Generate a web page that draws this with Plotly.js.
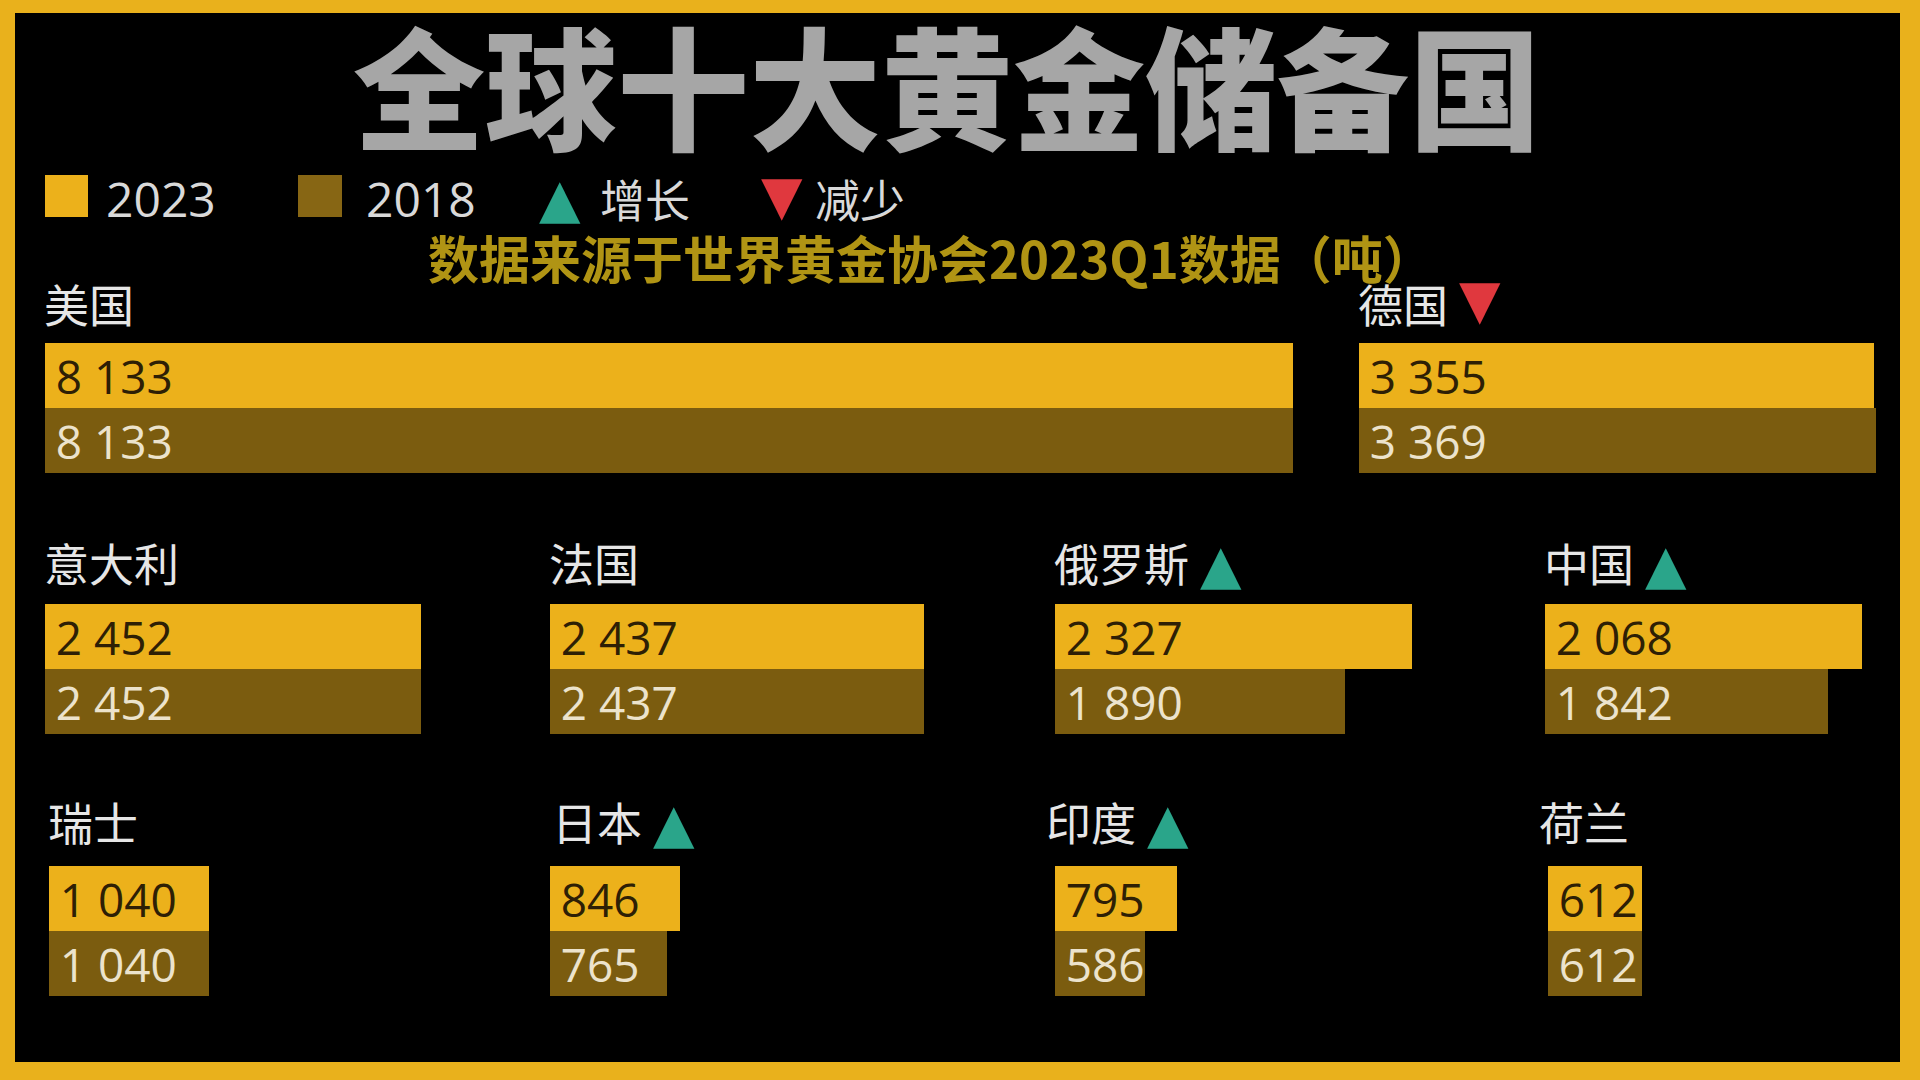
<!DOCTYPE html>
<html>
<head>
<meta charset="utf-8">
<script src="https://cdn.plot.ly/plotly-3.0.1.min.js"></script>
<style>html,body{margin:0;padding:0;background:#000;}#chart{width:1920px;height:1080px;}</style>
</head>
<body>
<div id="chart"></div>
<script>
// ---- data ----
const countries = ['美国','德国','意大利','法国','俄罗斯','中国','瑞士','日本','印度','荷兰'];
const reserves2023 = [8133, 3355, 2452, 2437, 2327, 2068, 1040, 846, 795, 612];
const reserves2018 = [8133, 3369, 2452, 2437, 1890, 1842, 1040, 765, 586, 612];
const years = ['2023', '2018'];
const trendLabels = ['增长', '减少'];
const titleText = '全球十大黄金储备国';
const subtitleText = '数据来源于世界黄金协会2023Q1数据（吨）';

// ---- layout constants ----
const W = 1920, H = 1080;
const PX_PER_T = 0.1535;
const BAR_BLOCK = 130;
const LABEL_SIZE = 45;
const panels = [
  {x0: 45,   L: 1300, top: 343, lx: 0,  ly: 40},
  {x0: 1359, L: 530,  top: 343, lx: 0,  ly: 40},
  {x0: 45,   L: 480,  top: 604, lx: 0,  ly: 42},
  {x0: 550,  L: 480,  top: 604, lx: 0,  ly: 42},
  {x0: 1055, L: 480,  top: 604, lx: 0,  ly: 42},
  {x0: 1545, L: 345,  top: 604, lx: 0,  ly: 42},
  {x0: 49,   L: 480,  top: 866, lx: 0,  ly: 45},
  {x0: 550,  L: 480,  top: 866, lx: 3,  ly: 45},
  {x0: 1055, L: 480,  top: 866, lx: -8, ly: 45},
  {x0: 1548, L: 345,  top: 866, lx: -8, ly: 45}
];
const GOLD = '#ecb11b', BROWN = '#7b5c0f';
const GREEN = '#2aa58a', RED = '#e0383e';
const LABEL = '#e6e6e6';
const CJK = '"Noto Sans CJK SC", "Noto Sans", sans-serif';
const NUM = '"Open Sans", "Noto Sans", sans-serif';

const px = x => x / W;
const py = y => 1 - y / H;
const fmt = v => String(v).replace(/\B(?=(\d{3})+(?!\d))/g, ' ');

const traces = [];
const layout = {
  width: W, height: H,
  margin: {l: 0, r: 0, t: 0, b: 0},
  paper_bgcolor: '#e9b11c',
  plot_bgcolor: 'rgba(0,0,0,0)',
  showlegend: false,
  bargap: 0,
  title: {
    text: titleText,
    font: {family: CJK, size: 132, color: '#a6a6a6', weight: 900},
    x: px(947), xanchor: 'center', xref: 'paper',
    y: py(94), yanchor: 'middle', yref: 'paper'
  },
  shapes: [
    {type: 'rect', xref: 'paper', yref: 'paper', x0: px(15), x1: px(1900), y0: py(13), y1: py(1062),
     fillcolor: '#000000', line: {width: 0}, layer: 'below'},
    {type: 'rect', xref: 'paper', yref: 'paper', x0: px(45), x1: px(88), y0: py(175), y1: py(217),
     fillcolor: GOLD, line: {width: 0}},
    {type: 'rect', xref: 'paper', yref: 'paper', x0: px(298), x1: px(342), y0: py(175), y1: py(217),
     fillcolor: '#876614', line: {width: 0}}
  ],
  annotations: [
    {text: subtitleText, xref: 'paper', yref: 'paper', x: px(931), y: py(257), xanchor: 'center', yanchor: 'middle',
     showarrow: false, font: {family: CJK, size: 51, color: '#b09414', weight: 700}},
    {text: years[0], xref: 'paper', yref: 'paper', x: px(104), y: py(198), xanchor: 'left', yanchor: 'middle',
     showarrow: false, font: {family: NUM, size: 48, color: '#d9d9d9'}},
    {text: years[1], xref: 'paper', yref: 'paper', x: px(364), y: py(198), xanchor: 'left', yanchor: 'middle',
     showarrow: false, font: {family: NUM, size: 48, color: '#d9d9d9'}},
    {text: '▲', xref: 'paper', yref: 'paper', x: px(537), y: py(199), xanchor: 'left', yanchor: 'middle',
     showarrow: false, font: {family: 'DejaVu Sans', size: 54, color: GREEN}},
    {text: trendLabels[0], xref: 'paper', yref: 'paper', x: px(598), y: py(198), xanchor: 'left', yanchor: 'middle',
     showarrow: false, font: {family: CJK, size: 45, color: '#d9d9d9'}},
    {text: '▼', xref: 'paper', yref: 'paper', x: px(759), y: py(195), xanchor: 'left', yanchor: 'middle',
     showarrow: false, font: {family: 'DejaVu Sans', size: 54, color: RED}},
    {text: trendLabels[1], xref: 'paper', yref: 'paper', x: px(813), y: py(198), xanchor: 'left', yanchor: 'middle',
     showarrow: false, font: {family: CJK, size: 45, color: '#d9d9d9'}}
  ]
};

countries.forEach((name, i) => {
  const p = panels[i];
  const n = i + 1;
  const xa = 'x' + n, ya = 'y' + n;
  const v23 = reserves2023[i], v18 = reserves2018[i];
  traces.push({
    type: 'bar', orientation: 'h',
    x: [v23, v18], y: years,
    xaxis: xa, yaxis: ya,
    marker: {color: [GOLD, BROWN], line: {width: 0}},
    text: [v23, v18].map(v => '\u2009' + fmt(v)),
    textposition: 'inside', insidetextanchor: 'start', constraintext: 'none',
    textangle: 0,
    textfont: {family: NUM, size: 46, color: ['#2e1f05', '#ece3cc']},
    hoverinfo: 'skip', cliponaxis: false
  });
  layout['xaxis' + n] = {
    domain: [px(p.x0), px(p.x0 + p.L)], range: [0, p.L / PX_PER_T],
    anchor: ya, visible: false, fixedrange: true, showgrid: false, zeroline: false
  };
  layout['yaxis' + n] = {
    domain: [py(p.top + BAR_BLOCK), py(p.top)], type: 'category', categoryarray: years,
    categoryorder: 'array', autorange: 'reversed',
    anchor: xa, visible: false, fixedrange: true, showgrid: false, zeroline: false
  };
  layout.annotations.push({
    text: name,
    xref: xa + ' domain', yref: ya + ' domain', x: 0, y: 1,
    xanchor: 'left', yanchor: 'middle', yshift: p.ly, xshift: p.lx - 3,
    showarrow: false, font: {family: CJK, size: LABEL_SIZE, color: LABEL}
  });
  if (v23 !== v18) {
    const up = v23 > v18;
    layout.annotations.push({
      text: up ? '▲' : '▼',
      xref: xa + ' domain', yref: ya + ' domain', x: 0, y: 1,
      xanchor: 'left', yanchor: 'middle',
      yshift: p.ly + (up ? -2 : 4), xshift: p.lx + name.length * LABEL_SIZE + 8,
      showarrow: false, font: {family: 'DejaVu Sans', size: 54, color: up ? GREEN : RED}
    });
  }
});

Plotly.newPlot('chart', traces, layout, {displayModeBar: false, staticPlot: true});
</script>
</body>
</html>
